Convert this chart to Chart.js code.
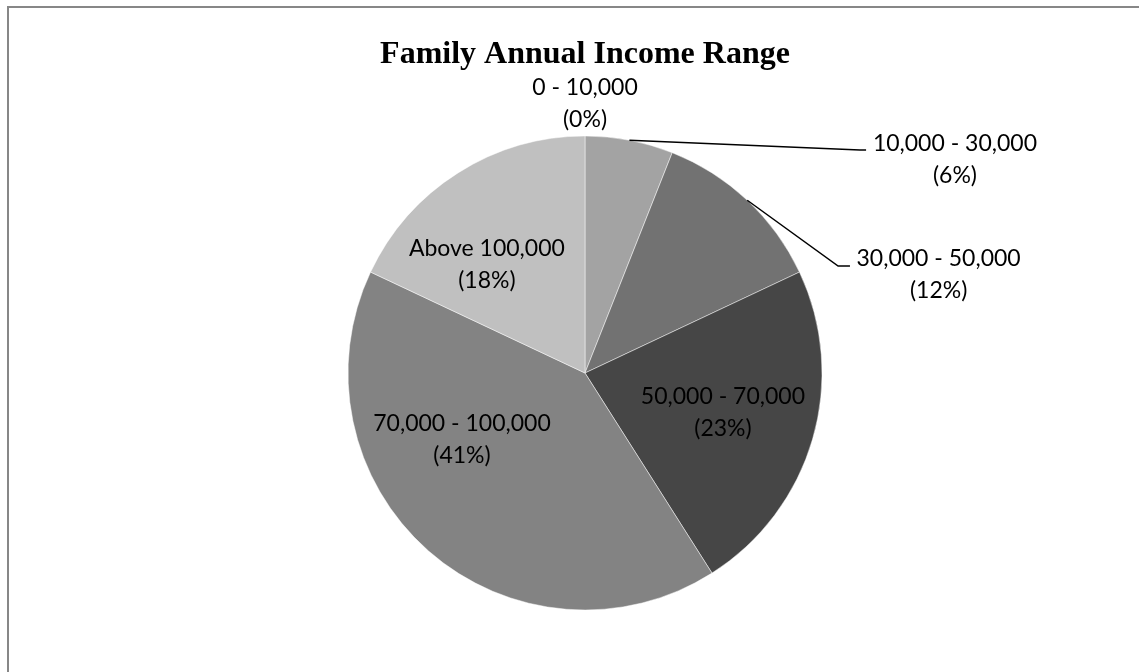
<!DOCTYPE html>
<html>
<head>
<meta charset="utf-8">
<title>Family Annual Income Range</title>
<script src="https://cdn.jsdelivr.net/npm/chart.js@4.4.1/dist/chart.umd.min.js"></script>
<style>
    html, body {
        margin: 0;
        padding: 0;
        background: #ffffff;
        overflow: hidden;
    }
    .frame {
        position: absolute;
        left: 7px;
        top: 6px;
        width: 1130px;
        height: 720px;
        border-top: 2px solid #878787;
        border-left: 2px solid #878787;
        pointer-events: none;
    }
    #incomeChart {
        position: absolute;
        left: 0;
        top: 0;
    }
</style>
</head>
<body>
<canvas id="incomeChart" width="1147" height="672"></canvas>
<div class="frame"></div>
<script>
// Income brackets and their share of families (%)
const incomeRanges = ['0 - 10,000', '10,000 - 30,000', '30,000 - 50,000', '50,000 - 70,000', '70,000 - 100,000', 'Above 100,000'];
const incomeShares = [0, 6, 12, 23, 41, 18];
const sliceColors = ['#d9d9d9', '#a3a3a3', '#727272', '#464646', '#838383', '#c0c0c0'];

// Label placement, in units of the pie radius measured from its centre.
// leader: elbow point and end point of the connector line (outside labels only)
const labelLayout = [
    { dx: 0.0, dy: -1.135 },
    { dx: 1.561, dy: -0.899, leader: [1.160, -0.941, 1.186, -0.941] },
    { dx: 1.492, dy: -0.416, leader: [1.068, -0.451, 1.118, -0.451] },
    { dx: 0.582, dy: 0.167 },
    { dx: -0.519, dy: 0.283 },
    { dx: -0.414, dy: -0.456 }
];

const LABEL_FONT = '23px Lato, "Open Sans", sans-serif';
const LINE_GAP = 32;

/**
 * Draws the two-line data labels and connector lines
 */
const sliceLabels = {
    id: 'sliceLabels',
    afterDatasetsDraw(chart) {
        const ctx = chart.ctx;
        const arcs = chart.getDatasetMeta(0).data;
        const values = chart.data.datasets[0].data;

        ctx.save();
        ctx.font = LABEL_FONT;
        ctx.fillStyle = '#000000';
        ctx.textAlign = 'center';
        ctx.textBaseline = 'middle';

        arcs.forEach((arc, i) => {
            const { x, y, outerRadius, startAngle, endAngle } = arc.getProps(['x', 'y', 'outerRadius', 'startAngle', 'endAngle'], true);
            const place = labelLayout[i];
            const tx = x + place.dx * outerRadius;
            const ty = y + place.dy * outerRadius;

            // Connector from the slice edge to the label
            if (place.leader) {
                const mid = (startAngle + endAngle) / 2;
                const sx = x + Math.cos(mid) * outerRadius;
                const sy = y + Math.sin(mid) * outerRadius;
                const l = place.leader;
                ctx.beginPath();
                ctx.strokeStyle = '#000000';
                ctx.lineWidth = 1.5;
                ctx.moveTo(sx, sy);
                ctx.lineTo(x + l[0] * outerRadius, y + l[1] * outerRadius);
                ctx.lineTo(x + l[2] * outerRadius, y + l[3] * outerRadius);
                ctx.stroke();
            }

            ctx.fillText(chart.data.labels[i], tx, ty - LINE_GAP / 2);
            ctx.fillText('(' + values[i] + '%)', tx, ty + LINE_GAP / 2);
        });

        ctx.restore();
    }
};

const ctx = document.getElementById('incomeChart');

const incomeChart = new Chart(ctx, {
    type: 'pie',
    data: {
        labels: incomeRanges,
        datasets: [{
            data: incomeShares,
            backgroundColor: sliceColors,
            borderColor: 'rgba(255, 255, 255, 0.6)',
            borderWidth: 0.8
        }]
    },
    options: {
        responsive: false,
        animation: false,
        radius: 237,
        layout: {
            padding: { left: 23, right: 0, top: 9.6, bottom: 0 }
        },
        plugins: {
            legend: { display: false },
            tooltip: { enabled: false },
            title: {
                display: true,
                text: 'Family Annual Income Range',
                color: '#000000',
                font: {
                    family: '"Liberation Serif", "Times New Roman", serif',
                    size: 32,
                    weight: 'bold',
                    lineHeight: 1.2
                },
                padding: { top: 26, bottom: 0 }
            }
        }
    },
    plugins: [sliceLabels]
});
</script>
</body>
</html>
